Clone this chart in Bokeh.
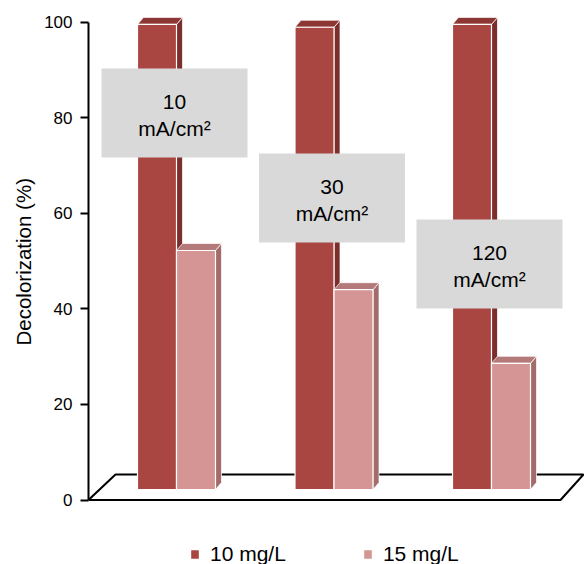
from bokeh.plotting import figure
from bokeh.models import Range1d, FixedTicker, Legend, LegendItem, Title
from bokeh.embed import file_html
from bokeh.resources import INLINE
from bokeh.core.properties import value

# ---- data -------------------------------------------------------------
densities = ["10", "30", "120"]                 # current density, mA/cm2
series = ["10 mg/L", "15 mg/L"]                 # initial dye concentration
decol_10 = [99.5, 98.9, 99.5]                   # decolorization (%) at 10 mg/L
decol_15 = [52.2, 44.0, 28.6]                   # decolorization (%) at 15 mg/L
y_ticks = [0, 20, 40, 60, 80, 100]

# ---- layout / style constants (pixels) --------------------------------
W, H = 584, 564
FRAME_LEFT = 88
ZERO_ROW = 499.5          # canvas row of value 0
PX_PER_UNIT = 4.78        # vertical pixels per percent
G0 = 176.0                # canvas column of first group centre
G_STEP = 157.5            # pixels between groups
BAR_W = 39.0
DEPTH_X, DEPTH_Y = 6.0, 7.0
BAR_BASE = 10.5           # bars stand this far behind the floor's front edge
FONT = "Liberation Sans"

DARK, DARK_SIDE, DARK_TOP = "#a94642", "#7c2e2c", "#8c3734"
LIGHT, LIGHT_SIDE, LIGHT_TOP = "#d59594", "#a26c6b", "#b37a79"


def ux(px):
    return px / G_STEP


def uy(px):
    return px / PX_PER_UNIT


p = figure(width=W, height=H, output_backend="svg", toolbar_location=None,
           x_axis_type=None,
           x_range=Range1d(ux(FRAME_LEFT - G0), ux(W - G0)),
           y_range=Range1d(-uy(H - ZERO_ROW), uy(ZERO_ROW)),
           min_border_left=FRAME_LEFT, min_border_right=0,
           min_border_top=0, min_border_bottom=0)
p.outline_line_color = None
p.grid.visible = False
p.background_fill_color = "white"
p.border_fill_color = "white"

# ---- floor of the 3-D plot ---------------------------------------------
back = uy(ZERO_ROW - 474)
floor_x = [ux(88 - G0), ux(560 - G0), ux(583 - G0), ux(115 - G0), ux(88 - G0)]
floor_y = [0, 0, back, back, 0]
p.line(floor_x, floor_y, line_color="black", line_width=2)

# ---- 3-D bars ----------------------------------------------------------
base = uy(BAR_BASE)
dx, dy = ux(DEPTH_X), uy(DEPTH_Y)
bw = ux(BAR_W)


def bar3d(centres, tops, front, side, top_col):
    side_xs, side_ys, top_xs, top_ys = [], [], [], []
    for xc, t in zip(centres, tops):
        xl, xr = xc - bw / 2, xc + bw / 2
        side_xs.append([xr, xr + dx, xr + dx, xr])
        side_ys.append([base, base + dy, t + dy, t])
        top_xs.append([xl, xl + dx, xr + dx, xr])
        top_ys.append([t, t + dy, t + dy, t])
    p.patches(side_xs, side_ys, fill_color=side,
              line_color="white", line_width=1, line_alpha=0.7)
    p.patches(top_xs, top_ys, fill_color=top_col,
              line_color="white", line_width=1, line_alpha=0.7)
    return p.vbar(x=centres, width=bw, bottom=base, top=tops,
                  fill_color=front, line_color="white", line_width=1.2)


idx = list(range(len(densities)))
x_dark = [i - bw / 2 for i in idx]
x_light = [i + bw / 2 for i in idx]
r_dark = bar3d(x_dark, decol_10, DARK, DARK_SIDE, DARK_TOP)
r_light = bar3d(x_light, decol_15, LIGHT, LIGHT_SIDE, LIGHT_TOP)

# ---- current-density callouts -----------------------------------------
CALLOUT_ROWS = [112.5, 197.5, 263.5]
CALLOUT_W, CALLOUT_H = 146, 89
cx = [i + ux(-2) for i in idx]
cy = [uy(ZERO_ROW - r) for r in CALLOUT_ROWS]
p.rect(x=cx, y=cy, width=ux(CALLOUT_W), height=uy(CALLOUT_H),
       fill_color="#d9d9d9", line_color=None)
p.text(x=cx, y=[v - uy(2) for v in cy],
       text=[f"{d}\nmA/cm\u00b2" for d in densities],
       text_align="center", text_baseline="middle",
       text_font=value(FONT), text_font_size="21px", text_color="black",
       text_line_height=1.15)

# ---- value axis --------------------------------------------------------
ax = p.yaxis[0]
ax.ticker = FixedTicker(ticks=y_ticks)
ax.bounds = (0, 100)
ax.axis_line_width = 2
ax.major_tick_line_width = 2
ax.major_tick_out = 8
ax.major_tick_in = 0
ax.minor_tick_line_color = None
ax.major_label_standoff = 8
ax.major_label_text_font = FONT
ax.major_label_text_font_size = "17px"
ax.major_label_text_color = "black"

# axis title, placed along the 0-100 span rather than the whole frame
LABEL_START_ROW = 345     # canvas row where the rotated title begins
p.add_layout(Title(text="Decolorization (%)", align="left",
                   offset=H - LABEL_START_ROW, standoff=14,
                   text_font=FONT, text_font_size="20.5px",
                   text_font_style="normal", text_color="black"), "left")

# ---- legend ------------------------------------------------------------
legend = Legend(items=[LegendItem(label=series[0], renderers=[r_dark]),
                       LegendItem(label=series[1], renderers=[r_light])],
                orientation="horizontal", location=(189 - FRAME_LEFT, -2),
                glyph_width=11, glyph_height=12, label_standoff=10,
                spacing=76, padding=0, margin=0,
                border_line_color=None, background_fill_alpha=0,
                label_text_font=FONT, label_text_font_size="21px",
                label_text_color="black")
p.add_layout(legend)

open("out.html", "w").write(file_html(p, INLINE))
